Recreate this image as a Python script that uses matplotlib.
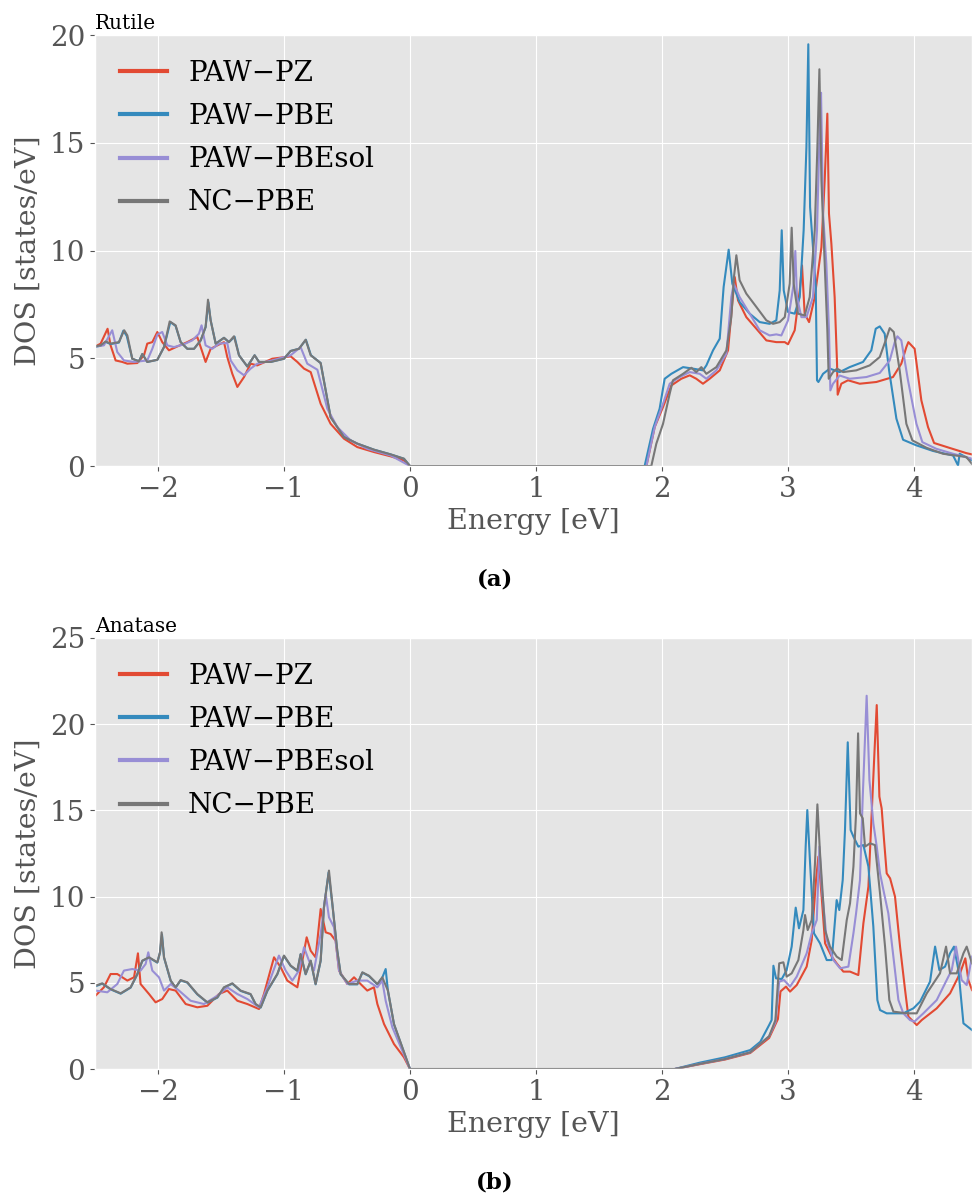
import numpy as np
import matplotlib
matplotlib.use("Agg")
import matplotlib.pyplot as plt

# ggplot look with serif text
plt.style.use('ggplot')
plt.rcParams['font.family'] = ['DejaVu Serif']

labels = ['PAW\u2212PZ', 'PAW\u2212PBE', 'PAW\u2212PBEsol', 'NC\u2212PBE']
colors = ['#E24A33', '#348ABD', '#988ED5', '#777777']

# ---------------- Rutile ----------------
rut_pz_e = [-2.53, -2.455, -2.40, -2.376, -2.336, -2.283, -2.243, -2.164, -2.111, -2.085, -2.045, -2.005,
            -1.966, -1.913, -1.846, -1.767, -1.688, -1.648, -1.622, -1.582, -1.529, -1.476, -1.450, -1.410,
            -1.370, -1.317, -1.265, -1.212, -1.093, -0.947, -0.894, -0.841, -0.788, -0.709, -0.630, -0.524,
            -0.418, -0.286, -0.153, -0.048, 0.0,
            1.876, 1.942, 2.008, 2.074, 2.153, 2.220, 2.272, 2.325, 2.378, 2.458, 2.524, 2.550, 2.577, 2.603,
            2.669, 2.749, 2.828, 2.907, 2.974, 3.0, 3.053, 3.093, 3.111, 3.132, 3.167, 3.212, 3.265, 3.291,
            3.312, 3.325, 3.344, 3.370, 3.389, 3.394, 3.423, 3.476, 3.569, 3.701, 3.833, 3.899, 3.939, 3.955,
            4.005, 4.058, 4.111, 4.159, 4.283, 4.415, 4.46]
rut_pz_dos = [5.44, 5.68, 6.37, 5.60, 4.90, 4.83, 4.75, 4.78, 5.14, 5.68, 5.75, 6.22,
              5.75, 5.37, 5.55, 5.75, 5.99, 5.29, 4.83, 5.44, 5.60, 5.75, 5.06, 4.28,
              3.67, 4.13, 4.75, 4.67, 4.98, 5.09, 4.83, 4.52, 4.36, 2.89, 1.96, 1.27,
              0.88, 0.65, 0.45, 0.26, 0.0,
              0.0, 1.81, 2.74, 3.74, 4.05, 4.21, 4.05, 3.82, 4.05, 4.44, 5.37, 7.07, 8.77, 7.69,
              6.91, 6.37, 5.83, 5.75, 5.75, 5.65, 6.30, 8.15, 9.31, 7.07, 6.68, 7.84, 10.16, 13.26,
              16.35, 11.71, 10.32, 7.84, 4.75, 3.31, 3.82, 3.98, 3.82, 3.90, 4.13, 4.75, 5.52, 5.75,
              5.44, 3.05, 1.81, 1.07, 0.84, 0.60, 0.54]

rut_pbe_e = [-2.53, -2.455, -2.415, -2.376, -2.310, -2.275, -2.248, -2.204, -2.151, -2.124, -2.085, -2.005,
             -1.952, -1.902, -1.860, -1.820, -1.767, -1.714, -1.661, -1.622, -1.600, -1.582, -1.542, -1.476,
             -1.437, -1.392, -1.357, -1.291, -1.233, -1.198, -1.106, -1.0, -0.947, -0.881, -0.826, -0.786,
             -0.709, -0.630, -0.524, -0.418, -0.286, -0.153, -0.048, 0.0,
             1.862, 1.929, 1.981, 2.021, 2.074, 2.167, 2.246, 2.325, 2.352, 2.405, 2.458, 2.489, 2.529,
             2.558, 2.616, 2.696, 2.775, 2.854, 2.907, 2.934, 2.950, 2.966, 3.0, 3.053, 3.093, 3.124,
             3.146, 3.161, 3.175, 3.198, 3.220, 3.230, 3.241, 3.278, 3.331, 3.410, 3.489, 3.595, 3.661,
             3.696, 3.728, 3.767, 3.802, 3.860, 3.913, 4.019, 4.151, 4.310, 4.349, 4.362, 4.46]
rut_pbe_dos = [5.50, 5.58, 5.76, 5.66, 5.73, 6.28, 6.04, 4.98, 4.86, 5.20, 4.83, 4.93,
               5.52, 6.68, 6.50, 5.75, 5.44, 5.44, 5.83, 6.45, 7.60, 6.76, 5.68, 5.95,
               5.75, 6.00, 5.14, 4.62, 5.14, 4.83, 4.83, 4.98, 5.34, 5.44, 5.86, 5.14,
               4.78, 2.27, 1.35, 1.04, 0.76, 0.54, 0.34, 0.0,
               0.0, 1.73, 2.66, 4.05, 4.28, 4.59, 4.52, 4.44, 4.67, 5.37, 5.91, 8.31, 10.04,
               8.46, 7.61, 7.07, 6.68, 6.60, 6.76, 8.15, 10.94, 8.15, 7.15, 7.07, 7.84, 10.94,
               14.80, 19.57, 12.02, 10.16, 8.31, 3.98, 3.90, 4.28, 4.52, 4.36, 4.59, 4.83, 5.37,
               6.37, 6.48, 6.14, 4.44, 2.20, 1.22, 0.96, 0.70, 0.49, 0.03, 0.57, 0.26]

rut_pbesol_e = [-2.53, -2.429, -2.363, -2.323, -2.270, -2.190, -2.085, -2.045, -2.005, -1.966, -1.926, -1.873,
                -1.794, -1.728, -1.675, -1.654, -1.622, -1.569, -1.516, -1.450, -1.423, -1.370, -1.317, -1.265,
                -1.212, -1.093, -0.947, -0.868, -0.815, -0.735, -0.656, -0.577, -0.471, -0.339, -0.153, 0.0,
                1.876, 1.942, 2.008, 2.061, 2.140, 2.220, 2.299, 2.352, 2.431, 2.511, 2.550, 2.569, 2.616,
                2.696, 2.775, 2.854, 2.907, 2.947, 3.0, 3.045, 3.058, 3.071, 3.106, 3.146, 3.198, 3.230,
                3.251, 3.262, 3.278, 3.304, 3.325, 3.336, 3.357, 3.410, 3.489, 3.622, 3.728, 3.807, 3.847,
                3.868, 3.899, 3.952, 4.019, 4.066, 4.177, 4.310, 4.46]
rut_pbesol_dos = [5.52, 5.60, 6.30, 5.29, 4.90, 4.83, 4.90, 5.44, 6.10, 6.22, 5.60, 5.52,
                  5.65, 5.83, 6.14, 6.53, 5.60, 5.44, 5.68, 5.71, 4.90, 4.44, 4.21, 4.52,
                  4.75, 4.90, 5.14, 5.52, 4.75, 4.47, 2.66, 1.81, 1.19, 0.80, 0.49, 0.0,
                  0.0, 1.81, 2.89, 3.82, 4.13, 4.36, 4.28, 4.05, 4.44, 5.21, 7.84, 8.46, 7.84,
                  7.07, 6.30, 6.06, 6.11, 6.06, 6.76, 8.46, 9.98, 7.84, 6.91, 6.91, 7.84, 10.94,
                  15.58, 17.32, 11.71, 9.39, 6.30, 3.51, 3.82, 4.20, 4.05, 4.13, 4.32, 4.90, 5.75,
                  6.02, 5.83, 3.98, 1.96, 1.11, 0.80, 0.57, 0.34]

rut_nc_e = [-2.53, -2.455, -2.415, -2.376, -2.310, -2.268, -2.243, -2.204, -2.151, -2.124, -2.085, -2.005,
            -1.952, -1.907, -1.860, -1.820, -1.767, -1.714, -1.661, -1.622, -1.603, -1.582, -1.542, -1.476,
            -1.437, -1.397, -1.357, -1.291, -1.233, -1.198, -1.106, -1.0, -0.947, -0.881, -0.828, -0.788,
            -0.709, -0.630, -0.524, -0.418, -0.286, -0.153, -0.048, 0.0,
            1.915, 1.955, 2.008, 2.061, 2.087, 2.167, 2.233, 2.272, 2.312, 2.352, 2.431, 2.511, 2.550,
            2.571, 2.590, 2.616, 2.669, 2.749, 2.828, 2.881, 2.934, 2.974, 3.013, 3.029, 3.045, 3.079,
            3.132, 3.172, 3.212, 3.233, 3.249, 3.265, 3.291, 3.312, 3.323, 3.357, 3.389, 3.437, 3.542,
            3.648, 3.728, 3.775, 3.807, 3.839, 3.886, 3.939, 3.987, 4.098, 4.230, 4.415, 4.46]
rut_nc_dos = [5.52, 5.60, 5.78, 5.68, 5.75, 6.30, 6.06, 4.98, 4.86, 5.20, 4.83, 4.93,
              5.52, 6.71, 6.53, 5.75, 5.44, 5.44, 5.83, 6.45, 7.72, 6.76, 5.68, 5.95,
              5.75, 6.02, 5.14, 4.62, 5.14, 4.83, 4.83, 4.98, 5.34, 5.44, 5.86, 5.14,
              4.78, 2.27, 1.35, 1.04, 0.76, 0.54, 0.34, 0.0,
              0.0, 1.04, 1.96, 3.36, 3.98, 4.28, 4.56, 4.36, 4.59, 4.28, 4.59, 5.37, 6.91,
              8.77, 9.78, 8.62, 8.00, 7.38, 6.76, 6.60, 6.68, 6.91, 8.46, 11.06, 8.46, 7.07,
              6.99, 7.84, 10.94, 14.80, 18.41, 13.26, 9.39, 6.30, 4.05, 4.36, 4.52, 4.36, 4.44,
              4.67, 5.06, 5.83, 6.40, 6.22, 4.44, 1.96, 1.19, 0.85, 0.57, 0.42, 0.10]

# ---------------- Anatase ----------------
ana_pz_e = [-2.495, -2.429, -2.376, -2.323, -2.243, -2.190, -2.159, -2.138, -2.071, -2.019, -1.966, -1.913,
            -1.860, -1.780, -1.688, -1.608, -1.516, -1.450, -1.370, -1.291, -1.198, -1.159, -1.079, -1.026,
            -0.974, -0.894, -0.854, -0.820, -0.788, -0.749, -0.709, -0.669, -0.630, -0.590, -0.563, -0.497,
            -0.444, -0.392, -0.339, -0.286, -0.259, -0.206, -0.127, -0.048, 0.0,
            2.10, 2.30, 2.50, 2.70, 2.85, 2.92, 2.94, 2.984, 3.016, 3.069, 3.148, 3.188, 3.222, 3.241,
            3.267, 3.294, 3.347, 3.386, 3.439, 3.492, 3.558, 3.598, 3.638, 3.664, 3.688, 3.704, 3.725,
            3.743, 3.762, 3.783, 3.810, 3.849, 3.889, 3.929, 3.955, 3.995, 4.021, 4.061, 4.180, 4.286,
            4.365, 4.407, 4.431, 4.46]
ana_pz_dos = [4.26, 4.74, 5.51, 5.51, 5.13, 5.32, 6.71, 4.93, 4.35, 3.87, 4.06, 4.64,
              4.55, 3.77, 3.58, 3.67, 4.35, 4.55, 3.96, 3.77, 3.48, 4.35, 6.48, 5.90,
              5.13, 4.74, 6.29, 7.64, 6.86, 6.48, 9.28, 7.93, 7.83, 7.44, 5.71, 4.93,
              5.32, 4.93, 4.55, 4.74, 3.77, 2.61, 1.45, 0.68, 0.0,
              0.0, 0.28, 0.55, 0.93, 1.80, 2.90, 4.50, 4.78, 4.49, 4.87, 5.94, 7.48, 10.96, 12.32,
              10.0, 7.29, 6.52, 6.13, 5.65, 5.65, 5.45, 8.45, 10.58, 14.83, 18.70, 21.11, 15.80,
              15.12, 13.28, 11.35, 11.06, 10.0, 7.10, 4.58, 3.04, 2.75, 2.55, 2.84, 3.52, 4.39,
              5.55, 6.42, 5.16, 4.58]

ana_pbe_e = [-2.495, -2.442, -2.376, -2.296, -2.217, -2.164, -2.124, -2.071, -2.005, -1.984, -1.968, -1.952,
             -1.899, -1.860, -1.820, -1.767, -1.688, -1.608, -1.529, -1.476, -1.410, -1.344, -1.265, -1.225,
             -1.185, -1.132, -1.053, -1.0, -0.947, -0.894, -0.868, -0.828, -0.788, -0.749, -0.709, -0.683,
             -0.646, -0.616, -0.577, -0.550, -0.484, -0.418, -0.378, -0.325, -0.259, -0.220, -0.193, -0.175,
             -0.127, -0.061, 0.0,
             2.10, 2.30, 2.50, 2.70, 2.78, 2.85, 2.87, 2.884, 2.905, 2.950, 2.989, 3.029, 3.061, 3.087,
             3.122, 3.140, 3.153, 3.175, 3.206, 3.254, 3.307, 3.347, 3.386, 3.407, 3.434, 3.452, 3.474,
             3.497, 3.519, 3.558, 3.598, 3.638, 3.677, 3.709, 3.730, 3.783, 3.915, 3.995, 4.048, 4.127,
             4.167, 4.201, 4.246, 4.286, 4.317, 4.352, 4.392, 4.46]
ana_pbe_dos = [4.80, 4.95, 4.62, 4.37, 4.72, 5.49, 6.27, 6.46, 6.17, 6.75, 7.80, 6.46,
               5.11, 4.72, 5.14, 5.01, 4.33, 3.85, 4.14, 4.72, 4.95, 4.53, 4.33, 3.75,
               3.56, 4.53, 5.49, 6.56, 5.98, 5.69, 6.65, 5.49, 6.27, 4.91, 6.27, 9.36,
               11.40, 9.55, 6.84, 5.49, 4.91, 4.91, 5.59, 5.39, 4.91, 5.30, 5.80, 4.53,
               2.59, 1.24, 0.0,
               0.0, 0.37, 0.68, 1.10, 1.58, 2.55, 2.84, 5.99, 5.26, 5.22, 5.74, 7.10, 9.36, 8.16,
               9.22, 12.90, 15.02, 11.93, 7.87, 7.29, 6.32, 6.32, 9.80, 9.22, 10.96, 13.86, 18.95,
               13.86, 13.48, 12.90, 12.99, 11.74, 8.26, 4.00, 3.42, 3.23, 3.23, 3.52, 3.91, 5.07,
               7.10, 5.74, 5.94, 6.71, 7.10, 5.74, 2.65, 2.26]

ana_pbesol_e = [-2.495, -2.402, -2.323, -2.270, -2.204, -2.138, -2.098, -2.077, -2.045, -1.992, -1.952, -1.899,
                -1.833, -1.741, -1.635, -1.529, -1.450, -1.370, -1.291, -1.198, -1.132, -1.040, -0.987, -0.934,
                -0.881, -0.841, -0.802, -0.762, -0.709, -0.669, -0.643, -0.603, -0.563, -0.497, -0.418, -0.339,
                -0.259, -0.220, -0.193, -0.140, -0.061, 0.0,
                2.10, 2.30, 2.50, 2.70, 2.85, 2.90, 2.93, 2.968, 3.016, 3.069, 3.148, 3.188, 3.228, 3.249,
                3.267, 3.307, 3.360, 3.413, 3.479, 3.519, 3.540, 3.571, 3.593, 3.624, 3.646, 3.677, 3.704,
                3.730, 3.757, 3.796, 3.836, 3.876, 3.915, 3.968, 4.003, 4.074, 4.180, 4.259, 4.299, 4.333,
                4.378, 4.418, 4.46]
ana_pbesol_dos = [4.55, 4.45, 4.93, 5.71, 5.80, 5.71, 6.09, 6.77, 5.71, 5.32, 4.55, 4.93,
                  4.55, 3.96, 3.77, 4.25, 4.74, 4.35, 4.06, 3.58, 4.74, 6.58, 5.71, 5.13,
                  5.71, 7.06, 6.29, 5.71, 7.83, 10.15, 8.80, 8.22, 5.71, 4.93, 5.13, 5.13,
                  4.74, 5.13, 3.96, 2.42, 1.06, 0.0,
                  0.0, 0.30, 0.58, 0.97, 1.90, 2.70, 5.07, 5.16, 4.78, 5.36, 6.71, 7.87, 8.64, 12.90,
                  10.58, 7.48, 6.32, 5.84, 5.94, 7.87, 9.03, 10.96, 15.80, 21.65, 16.76, 14.25, 12.90,
                  11.35, 10.38, 9.03, 6.52, 4.00, 3.23, 2.84, 2.75, 3.23, 4.00, 5.16, 5.74, 7.10,
                  5.16, 4.87, 6.52]

ana_nc_e = [-2.495, -2.442, -2.376, -2.296, -2.217, -2.164, -2.124, -2.071, -2.005, -1.984, -1.971, -1.952,
            -1.899, -1.860, -1.820, -1.767, -1.688, -1.608, -1.529, -1.476, -1.410, -1.344, -1.265, -1.225,
            -1.185, -1.132, -1.053, -1.0, -0.947, -0.894, -0.868, -0.828, -0.788, -0.749, -0.709, -0.683,
            -0.643, -0.616, -0.577, -0.550, -0.484, -0.418, -0.378, -0.325, -0.259, -0.220, -0.175, -0.127,
            -0.061, 0.0,
            2.10, 2.30, 2.50, 2.70, 2.85, 2.90, 2.93, 2.963, 2.989, 3.029, 3.082, 3.122, 3.135, 3.156,
            3.188, 3.214, 3.233, 3.254, 3.294, 3.333, 3.386, 3.426, 3.466, 3.492, 3.519, 3.540, 3.556,
            3.571, 3.593, 3.611, 3.651, 3.690, 3.730, 3.770, 3.804, 3.836, 3.942, 4.021, 4.101, 4.206,
            4.254, 4.286, 4.339, 4.392, 4.418, 4.46]
ana_nc_dos = [4.84, 4.97, 4.64, 4.39, 4.74, 5.51, 6.29, 6.48, 6.19, 6.77, 7.93, 6.48,
              5.13, 4.74, 5.16, 5.03, 4.35, 3.87, 4.16, 4.74, 4.97, 4.55, 4.35, 3.77,
              3.58, 4.55, 5.51, 6.58, 6.00, 5.71, 6.67, 5.51, 6.29, 4.93, 6.29, 9.38,
              11.51, 9.57, 6.86, 5.51, 4.93, 4.93, 5.61, 5.41, 4.93, 5.32, 4.55, 2.61,
              1.26, 0.0,
              0.0, 0.30, 0.58, 0.97, 1.90, 2.84, 6.13, 6.19, 5.36, 5.55, 6.32, 8.06, 8.93, 8.06,
              8.64, 11.93, 15.35, 12.51, 8.06, 7.10, 6.52, 6.32, 8.64, 9.61, 11.74, 14.83, 19.47,
              14.83, 14.54, 12.90, 13.09, 12.99, 10.19, 7.10, 4.00, 3.33, 3.23, 3.23, 4.39, 5.55,
              7.10, 5.55, 5.55, 6.71, 7.10, 6.13]

panels = [
    ('Rutile', '(a)', (0, 20),
     [(rut_pz_e, rut_pz_dos), (rut_pbe_e, rut_pbe_dos), (rut_pbesol_e, rut_pbesol_dos), (rut_nc_e, rut_nc_dos)]),
    ('Anatase', '(b)', (0, 25),
     [(ana_pz_e, ana_pz_dos), (ana_pbe_e, ana_pbe_dos), (ana_pbesol_e, ana_pbesol_dos), (ana_nc_e, ana_nc_dos)]),
]

fig = plt.figure(figsize=(9.72, 11.99), dpi=100)
ax_rects = [[0.0977, 0.6113, 0.9023, 0.3595], [0.0977, 0.1084, 0.9023, 0.3595]]
caption_y = [1 - 579 / 1199, 1 - 1183 / 1199]

for (name, tag, ylim, series), rect, cy in zip(panels, ax_rects, caption_y):
    ax = fig.add_axes(rect)
    for (e, d), lab, col in zip(series, labels, colors):
        ax.plot(e, d, color=col, lw=1.5, label=lab)
    ax.set_xlim(-2.5, 4.46)
    ax.set_ylim(*ylim)
    ax.set_xticks([-2, -1, 0, 1, 2, 3, 4])
    ax.tick_params(labelsize=20, colors='#555555')
    ax.set_xlabel('Energy [eV]', fontsize=20.5, color='#555555', labelpad=4)
    ax.set_ylabel('DOS [states/eV]', fontsize=20.5, color='#555555', labelpad=6)
    ax.set_title(name, loc='left', fontsize=14.5, color='black', pad=4)
    leg = ax.legend(loc='upper left', fontsize=20, frameon=False, handlelength=1.7,
                    handletextpad=0.75, labelspacing=0.58, borderaxespad=0.5)
    for h in leg.get_lines():
        h.set_linewidth(3)
    fig.text(0.509, cy, tag, ha='center', va='center', fontsize=16.5, fontweight='bold')

fig.savefig('out.png', dpi=100)
